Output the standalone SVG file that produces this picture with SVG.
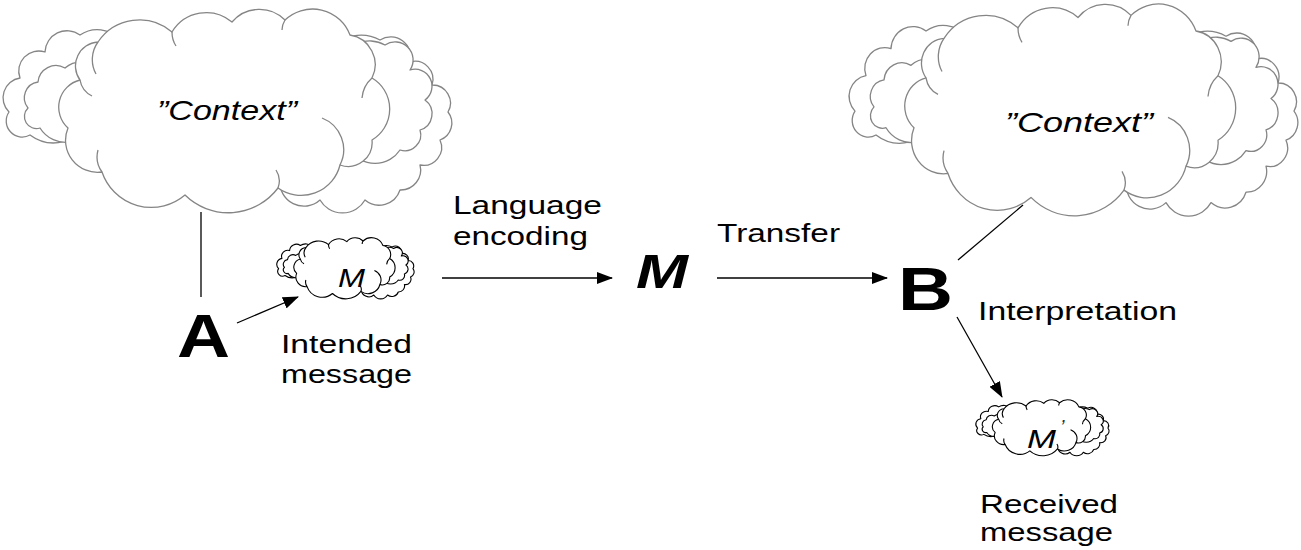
<svg xmlns="http://www.w3.org/2000/svg" xmlns:xlink="http://www.w3.org/1999/xlink" width="1301" height="550" viewBox="0 0 1301 550">
<style>
  .lbl { font-family: "Liberation Sans", Arial, sans-serif; font-size: 26px; fill: #000; }
  .ctx { font-family: "Liberation Sans", Arial, sans-serif; font-size: 28px; font-style: italic; fill: #000; stroke: none; }
  .big { font-family: "Liberation Sans", Arial, sans-serif; font-weight: bold; fill: #000; }
  .gray { stroke: #858585; stroke-width: 1.3; }
  .blk { stroke: #000; stroke-width: 1.1; }
  .conn line { stroke: #000; stroke-width: 1.3; }
</style>
<defs>
  <marker id="ah" markerUnits="userSpaceOnUse" markerWidth="16" markerHeight="12" refX="15" refY="6" orient="auto">
    <path d="M0,0 L16,6 L0,12 Z" fill="#000"/>
  </marker>
  <g id="cloud" stroke-linejoin="round">
    <!-- outer back lobes, left and right -->
    <path fill="#fff" vector-effect="non-scaling-stroke" d="M90,120 A40 40 0 0 1 30,135 A16 16 0 0 1 9,112 A20 20 0 0 1 20,78 A20 20 0 0 1 45,52 A22 22 0 0 1 80,35 A30 30 0 0 1 120,40 Z"/>
    <path fill="#fff" vector-effect="non-scaling-stroke" d="M330,50 A40 40 0 0 1 380,40 A20 20 0 0 1 410,62 A18 18 0 0 1 432,85 A18 18 0 0 1 448,112 A18 18 0 0 1 440,140 A18 18 0 0 1 420,165 A20 20 0 0 1 400,190 A22 22 0 0 1 365,200 A26 26 0 0 1 320,200 A24 24 0 0 1 280,180 Z"/>
    <!-- inner back lobes -->
    <path fill="#fff" vector-effect="non-scaling-stroke" d="M95,118 A30 30 0 0 1 40,128 A12 12 0 0 1 28,108 A16 16 0 0 1 38,82 A18 18 0 0 1 65,68 A25 25 0 0 1 100,70 Z"/>
    <path fill="#fff" vector-effect="non-scaling-stroke" d="M340,70 A30 30 0 0 1 385,45 A18 18 0 0 1 410,70 A17 17 0 0 1 425,100 A17 17 0 0 1 420,130 A16 16 0 0 1 400,150 A30 30 0 0 1 350,150 Z"/>
    <!-- main cloud -->
    <path fill="#fff" vector-effect="non-scaling-stroke" d="M68,128 A28 28 0 0 1 80,80 A24 24 0 0 1 98,42 A50 50 0 0 1 172,32 A40 40 0 0 1 232,22 A36 36 0 0 1 285,20 A40 40 0 0 1 350,35 A30 30 0 0 1 372,78 A36 36 0 0 1 372,140 A24 24 0 0 1 340,165 A40 40 0 0 1 278,188 A62 62 0 0 1 185,195 A52 52 0 0 1 102,172 A32 32 0 0 1 68,128 Z"/>
    <path fill="none" vector-effect="non-scaling-stroke" d="M98,42 A30 30 0 0 0 96,74 M172,32 A26 26 0 0 0 176,46 M285,20 A20 20 0 0 0 282,30 M372,78 A30 30 0 0 0 362,98 M340,165 A34 34 0 0 0 322,118 M278,188 A20 20 0 0 0 276,170 M102,172 A26 26 0 0 1 98,150 M80,80 A22 22 0 0 0 92,96"/>
  </g>
</defs>

<g id="cloud-context-a">
  <use class="gray" xlink:href="#cloud"/>
  <text class="ctx" x="157" y="120" textLength="140" lengthAdjust="spacingAndGlyphs">”Context”</text>
</g>

<g id="cloud-context-b">
  <use class="gray" xlink:href="#cloud" transform="translate(853,5) scale(1,1.04) translate(-7,-10)"/>
  <text class="ctx" x="1005" y="132" textLength="148" lengthAdjust="spacingAndGlyphs">”Context”</text>
</g>

<g id="cloud-m">
  <use class="blk" xlink:href="#cloud" transform="translate(278,238) scale(0.306,0.3) translate(-7,-10)"/>
  <text class="ctx" x="338" y="287" style="font-size:25px" textLength="27" lengthAdjust="spacingAndGlyphs">M</text>
</g>

<g id="cloud-m2">
  <use class="blk" xlink:href="#cloud" transform="translate(977,400) scale(0.297,0.275) translate(-7,-10)"/>
  <text class="ctx" x="1027" y="448" style="font-size:26px" textLength="29" lengthAdjust="spacingAndGlyphs">M</text>
  <text class="ctx" x="1060" y="434" style="font-size:20px; fill:#1a3a3a">’</text>
</g>

<g id="node-a">
  <text class="big" x="177" y="357" style="font-size:62px" textLength="53" lengthAdjust="spacingAndGlyphs">A</text>
</g>

<g id="node-m">
  <text class="big" x="636" y="288" style="font-size:48px; font-style:italic" textLength="52" lengthAdjust="spacingAndGlyphs">M</text>
</g>

<g id="node-b">
  <text class="big" x="898" y="310" style="font-size:62px" textLength="55" lengthAdjust="spacingAndGlyphs">B</text>
</g>

<g id="labels">
  <text class="lbl" x="453" y="214" textLength="149" lengthAdjust="spacingAndGlyphs">Language</text>
  <text class="lbl" x="453" y="245" textLength="135" lengthAdjust="spacingAndGlyphs">encoding</text>
  <text class="lbl" x="717" y="242" textLength="123" lengthAdjust="spacingAndGlyphs">Transfer</text>
  <text class="lbl" x="281" y="353" textLength="131" lengthAdjust="spacingAndGlyphs">Intended</text>
  <text class="lbl" x="281" y="383" textLength="131" lengthAdjust="spacingAndGlyphs">message</text>
  <text class="lbl" x="978" y="320" textLength="199" lengthAdjust="spacingAndGlyphs">Interpretation</text>
  <text class="lbl" x="980" y="513" textLength="138" lengthAdjust="spacingAndGlyphs">Received</text>
  <text class="lbl" x="980" y="541" textLength="133" lengthAdjust="spacingAndGlyphs">message</text>
</g>

<g id="connectors" class="conn">
  <line x1="201" y1="212" x2="201" y2="297"/>
  <line x1="958" y1="260" x2="1023" y2="205"/>
  <line x1="237" y1="323" x2="298" y2="297" marker-end="url(#ah)"/>
  <line x1="442" y1="278" x2="612" y2="278" marker-end="url(#ah)"/>
  <line x1="717" y1="278" x2="887" y2="278" marker-end="url(#ah)"/>
  <line x1="957" y1="317" x2="1002" y2="397" marker-end="url(#ah)"/>
</g>
</svg>
